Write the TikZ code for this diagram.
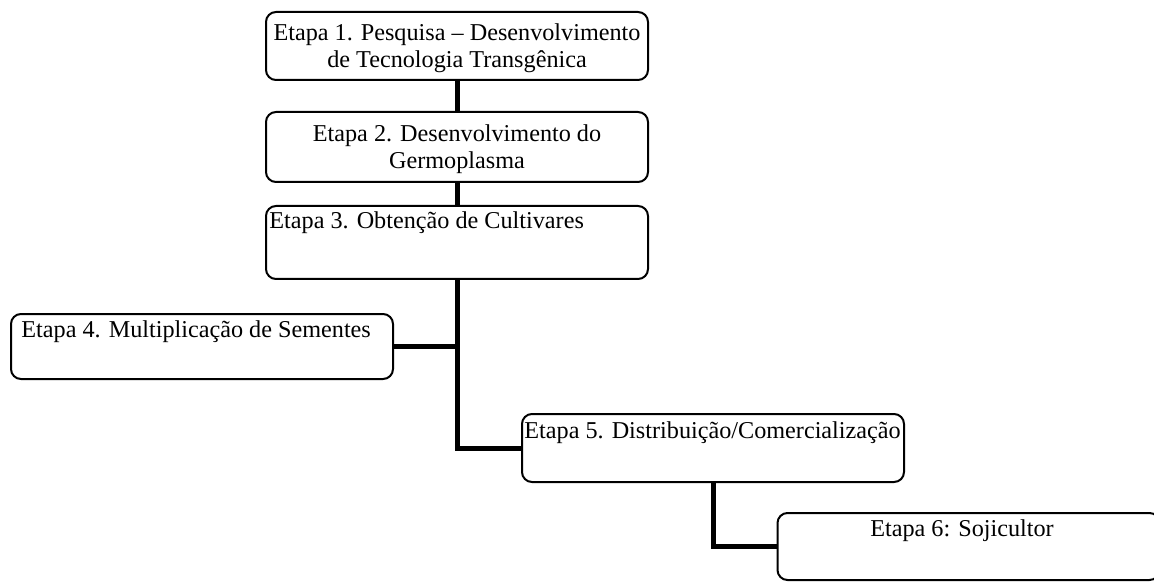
\documentclass[tikz,border=0pt]{standalone}
\usepackage{fontspec}
\setmainfont{Liberation Serif}

\begin{document}
\begin{tikzpicture}
[boxDecorate/.style={shape=rectangle,rounded corners=5pt,draw,line width=1pt,minimum width=191pt,inner sep=0pt},%
  textDecorate/.style={inner sep=0pt,font=\fontsize{12.1}{13.5}\selectfont},%
  lineDecorate/.style={-,line width=2.5pt},%
  x=0.5pt,y=-0.5pt]
\useasboundingbox (0,0) rectangle (1154,582);
%% boxes
\foreach \nodename/\x/\y/\h in {
  s1/457/46/34, s2/457/147/35, s3/457/242.5/36.5,
  s4/202/346.5/32.5, s5/713/448/34, s6/968.5/546.5/33.5}
{
  \node (\nodename) at (\x,\y) [boxDecorate,minimum height=\h pt] {};
}
%% texts
\node (t1) at ([yshift=-1pt]s1) [textDecorate,align=center] {Etapa 1. Pesquisa – Desenvolvimento\\de Tecnologia Transgênica};
\node (t2) at ([yshift=-1pt]s2) [textDecorate,align=center] {Etapa 2. Desenvolvimento do\\Germoplasma};
\node (t3) at ([xshift=2pt,yshift=-12pt]s3.north west) [textDecorate,anchor=base west] {Etapa 3. Obtenção de Cultivares};
\node (t4) at ([xshift=5.5pt,yshift=-12pt]s4.north west) [textDecorate,anchor=base west] {Etapa 4. Multiplicação de Sementes};
\node (t5) at ([xshift=1.5pt,yshift=-12.5pt]s5.north west) [textDecorate,anchor=base west] {Etapa 5. Distribuição/Comercialização};
\node (t6) at ([xshift=-3.25pt,yshift=-12pt]s6.north) [textDecorate,anchor=base] {Etapa 6: Sojicultor};
%% connectors
\foreach \startnode/\endnode in {s1/s2, s2/s3}
{
  \draw[lineDecorate] (\startnode.south) -- (\endnode.north);
}
\draw[lineDecorate] (s3.south) |- (s5.west);
\draw[lineDecorate] (s4.east) -- (s4.east -| s3.south);
\draw[lineDecorate] (s5.south) |- (s6.west);
\end{tikzpicture}
\end{document}
